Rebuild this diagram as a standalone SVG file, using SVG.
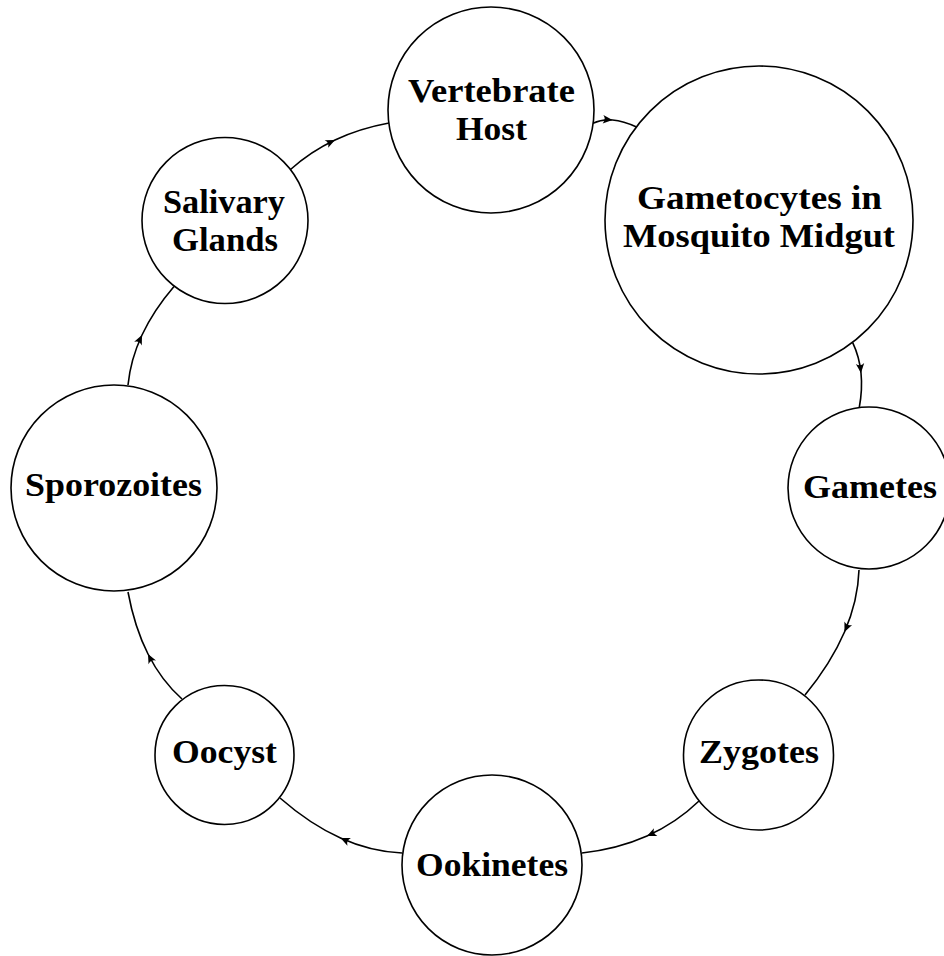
<svg xmlns="http://www.w3.org/2000/svg" width="944" height="956" viewBox="0 0 944 956">
<style>
.node circle{fill:#fff;stroke:#000;stroke-width:1.6}
.node text{font-family:"Liberation Serif","Times New Roman",serif;font-weight:bold;font-size:34px;fill:#000;text-anchor:middle}
.edge{fill:none;stroke:#000;stroke-width:1.6;marker-mid:url(#arr)}
</style>
<defs>
<marker id="arr" markerUnits="userSpaceOnUse" viewBox="0 0 10 10" markerWidth="10" markerHeight="10" refX="10" refY="5" orient="auto">
<path d="M10,5 L0.5,0.8 Q4,5 0.5,9.2 Z" fill="#000"/>
</marker>
</defs>
<rect width="944" height="956" fill="#fff"/>
<g id="connectors">
<path class="edge" d="M593,123.3 Q601.6,119.1 612.5,120 Q623.4,120.9 636.5,127"/>
<path class="edge" d="M852.7,342.7 Q859.35,356.85 861,373 Q862.65,389.15 859.3,407.3"/>
<path class="edge" d="M859,570 Q858,600.75 844.5,632 Q831,663.25 805,695"/>
<path class="edge" d="M699,801 Q676.25,823 647,836 Q617.75,849 582,853"/>
<path class="edge" d="M402,853 Q371,851.75 340.5,838 Q310,824.25 280,798"/>
<path class="edge" d="M182,699 Q161.5,680.75 148,654 Q134.5,627.25 128,592"/>
<path class="edge" d="M128,385 Q130.5,359.6 142,335 Q153.5,310.4 174,286.5"/>
<path class="edge" d="M290.5,169.5 Q310.4,151.6 335,140 Q359.6,128.4 389,123"/>
</g>
<g id="vertebrate-host" class="node">
<circle cx="491" cy="110" r="103"/>
<text x="491.5" y="102" textLength="167" lengthAdjust="spacingAndGlyphs">Vertebrate</text>
<text x="491.5" y="140" textLength="71" lengthAdjust="spacingAndGlyphs">Host</text>
</g>
<g id="gametocytes" class="node">
<circle cx="759" cy="220" r="154"/>
<text x="759.5" y="209" textLength="245" lengthAdjust="spacingAndGlyphs">Gametocytes in</text>
<text x="759" y="247" textLength="272" lengthAdjust="spacingAndGlyphs">Mosquito Midgut</text>
</g>
<g id="gametes" class="node">
<circle cx="869" cy="488" r="81"/>
<text x="870" y="498" textLength="134" lengthAdjust="spacingAndGlyphs">Gametes</text>
</g>
<g id="zygotes" class="node">
<circle cx="758.5" cy="755" r="75"/>
<text x="759" y="763" textLength="120" lengthAdjust="spacingAndGlyphs">Zygotes</text>
</g>
<g id="ookinetes" class="node">
<circle cx="492" cy="865" r="90"/>
<text x="492" y="876" textLength="152" lengthAdjust="spacingAndGlyphs">Ookinetes</text>
</g>
<g id="oocyst" class="node">
<circle cx="224.5" cy="755" r="69.5"/>
<text x="224.5" y="763" textLength="105" lengthAdjust="spacingAndGlyphs">Oocyst</text>
</g>
<g id="sporozoites" class="node">
<circle cx="114" cy="488" r="103"/>
<text x="113.5" y="496" textLength="177" lengthAdjust="spacingAndGlyphs">Sporozoites</text>
</g>
<g id="salivary-glands" class="node">
<circle cx="225" cy="220.5" r="83"/>
<text x="224" y="213" textLength="122" lengthAdjust="spacingAndGlyphs">Salivary</text>
<text x="225" y="251" textLength="106" lengthAdjust="spacingAndGlyphs">Glands</text>
</g>
</svg>
